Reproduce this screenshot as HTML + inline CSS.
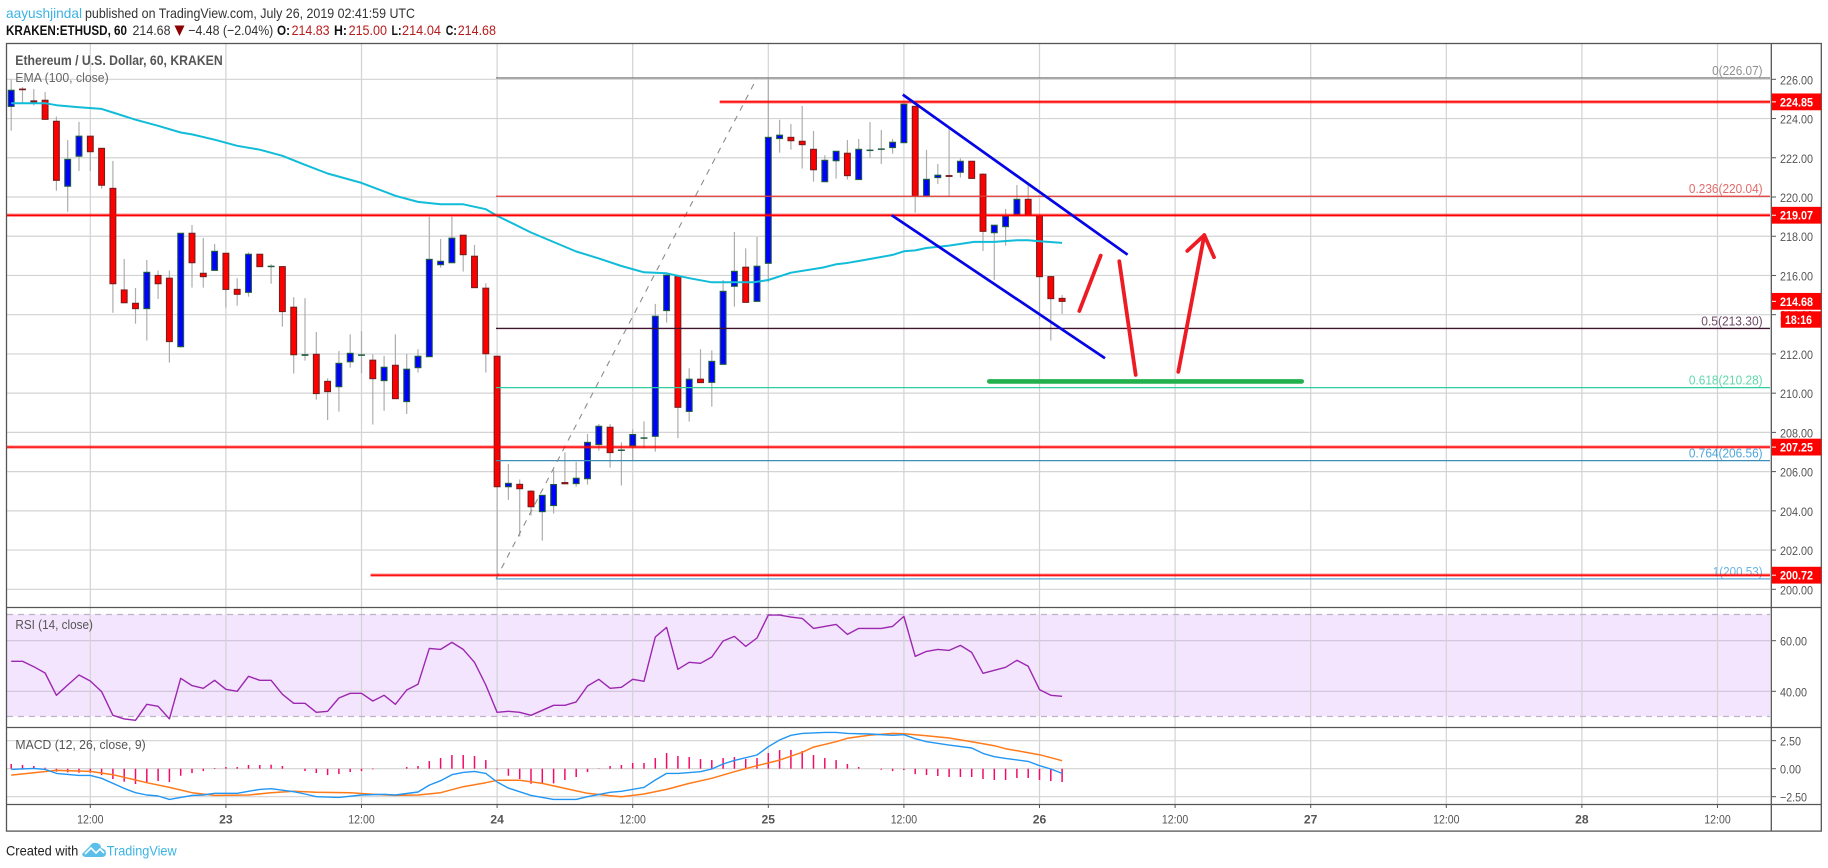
<!DOCTYPE html>
<html lang="en">
<head>
<meta charset="utf-8">
<title>ETHUSD 60 chart</title>
<style>
html,body{margin:0;padding:0;background:#fff;width:1828px;height:868px;overflow:hidden}
svg{display:block}
text{font-family:"Liberation Sans",sans-serif}
</style>
</head>
<body>
<svg id="chart" xmlns="http://www.w3.org/2000/svg" width="1828" height="868" viewBox="0 0 1828 868">
  <g font-size="14">
    <text x="6" y="18" fill="#3bb3e4" textLength="76" lengthAdjust="spacingAndGlyphs">aayushjindal</text>
    <text x="85" y="18" fill="#333" textLength="330" lengthAdjust="spacingAndGlyphs">published on TradingView.com, July 26, 2019 02:41:59 UTC</text>
    <text x="6" y="35" fill="#111" font-weight="bold" textLength="121" lengthAdjust="spacingAndGlyphs">KRAKEN:ETHUSD, 60</text>
    <text x="132.5" y="35" fill="#333" textLength="38" lengthAdjust="spacingAndGlyphs">214.68</text>
    <polygon points="174.5,25.5 184.5,25.5 179.5,36" fill="#8b0000"/>
    <text x="188.3" y="35" fill="#333" textLength="85" lengthAdjust="spacingAndGlyphs">−4.48 (−2.04%)</text>
    <text x="277" y="35" fill="#111" font-weight="bold" textLength="13" lengthAdjust="spacingAndGlyphs">O:</text>
    <text x="291.6" y="35" fill="#b71c1c" textLength="38" lengthAdjust="spacingAndGlyphs">214.83</text>
    <text x="334" y="35" fill="#111" font-weight="bold" textLength="13" lengthAdjust="spacingAndGlyphs">H:</text>
    <text x="348.6" y="35" fill="#b71c1c" textLength="38.4" lengthAdjust="spacingAndGlyphs">215.00</text>
    <text x="391.5" y="35" fill="#111" font-weight="bold" textLength="10" lengthAdjust="spacingAndGlyphs">L:</text>
    <text x="402" y="35" fill="#b71c1c" textLength="39" lengthAdjust="spacingAndGlyphs">214.04</text>
    <text x="445.8" y="35" fill="#111" font-weight="bold" textLength="11" lengthAdjust="spacingAndGlyphs">C:</text>
    <text x="457.7" y="35" fill="#b71c1c" textLength="38.3" lengthAdjust="spacingAndGlyphs">214.68</text>
  </g>

  <rect x="7" y="614.3" width="1763" height="102" fill="#f3e5fd"/>
  <g id="grid" stroke="#d3d3d3" stroke-width="1.2"></g>
  <line x1="7" x2="1770" y1="614.5" y2="614.5" stroke="#bdb3c4" stroke-width="1.2" stroke-dasharray="6 5"/>
  <line x1="7" x2="1770" y1="716.5" y2="716.5" stroke="#bdb3c4" stroke-width="1.2" stroke-dasharray="6 5"/>

  <g id="candles"></g>
  <polyline id="ema" fill="none" stroke="#10bcd8" stroke-width="2" stroke-linejoin="round"/>
  <g id="fib"></g>
  <g id="levels"></g>
  <g id="drawings"></g>

  <polyline id="rsi" fill="none" stroke="#9c27b0" stroke-width="1.4" stroke-linejoin="round"/>
  <g id="hist"></g>
  <polyline id="signal" fill="none" stroke="#ff7a1a" stroke-width="1.5" stroke-linejoin="round"/>
  <polyline id="macd" fill="none" stroke="#2196f3" stroke-width="1.4" stroke-linejoin="round"/>

  <g stroke="#555" stroke-width="1.3" fill="none">
    <rect x="6.5" y="43.5" width="1814.8" height="787.6"/>
    <line x1="1771.3" x2="1771.3" y1="43.5" y2="831"/>
    <line x1="6.5" x2="1821" y1="607.5" y2="607.5"/>
    <line x1="6.5" x2="1821" y1="727.5" y2="727.5"/>
    <line x1="6.5" x2="1821" y1="804.5" y2="804.5"/>
  </g>
  <g id="axes" font-size="12" fill="#555"></g>

  <g id="badges"></g>
  <rect x="1780.8" y="311.3" width="40.5" height="16.4" fill="#f00"/>
  <text x="1785" y="324" font-size="12" font-weight="bold" fill="#fff" textLength="27" lengthAdjust="spacingAndGlyphs">18:16</text>

  <g>
    <text x="15.3" y="65" font-size="14" font-weight="bold" fill="#555" textLength="207.4" lengthAdjust="spacingAndGlyphs">Ethereum / U.S. Dollar, 60, KRAKEN</text>
    <text x="15.3" y="82" font-size="13" fill="#666" textLength="93.4" lengthAdjust="spacingAndGlyphs">EMA (100, close)</text>
    <text x="15.4" y="629" font-size="13" fill="#555" textLength="77.5" lengthAdjust="spacingAndGlyphs">RSI (14, close)</text>
    <text x="15.4" y="749" font-size="13" fill="#555" textLength="130.3" lengthAdjust="spacingAndGlyphs">MACD (12, 26, close, 9)</text>
  </g>

  <g>
    <text x="6" y="855.5" font-size="14" fill="#222" textLength="72.3" lengthAdjust="spacingAndGlyphs">Created with</text>
    <path d="M82 854 L90 846 Q92 842 97 843 Q101 844 101 848 Q106 849 106 853 Q106 857 102 857 L86 857 Q83 857 82 854 Z" fill="#5bbfea"/>
    <polyline points="85,854 91,848 96,853 100,849 104,853" fill="none" stroke="#fff" stroke-width="1.6"/>
    <text x="106.7" y="855.5" font-size="14" fill="#3bb3e4" textLength="70" lengthAdjust="spacingAndGlyphs">TradingView</text>
  </g>
</svg>

<script>
// ---- candle data: one entry per hour, first candle is hour -7 relative to Jul 22 12:00 ----
var firstHour = -7;
var opens  = [224.62,225.5,224.9,224.93,223.86,220.55,222.08,223.1,222.48,220.44,215.26,214.58,214.31,216.0,215.86,212.37,218.15,216.11,216.26,217.13,215.29,215.14,217.08,216.45,216.45,214.38,211.93,211.98,210.6,210.33,211.6,211.95,211.68,210.64,211.42,209.57,211.3,211.86,216.55,216.65,218.05,216.98,215.35,211.88,205.23,205.35,205.0,203.96,204.27,205.44,205.39,205.64,207.38,208.26,207.1,207.32,207.72,207.8,214.21,215.96,209.07,210.71,210.55,211.47,215.45,216.42,214.68,216.62,222.98,223.04,222.84,222.43,220.78,221.85,222.23,220.89,222.37,222.43,222.52,222.77,224.62,220.05,220.99,221.09,221.26,221.82,221.16,218.18,218.49,219.1,219.88,219.05,215.94,214.83];
var highs  = [226.0,225.6,225.5,225.35,224.1,222.9,223.83,223.1,222.48,221.84,216.84,215.36,216.79,216.25,216.25,218.15,218.57,217.91,217.6,217.13,215.86,217.18,217.08,216.57,216.45,214.89,214.84,213.12,210.76,212.15,213.0,213.17,211.98,211.9,213.0,212.0,212.24,219.0,217.86,219.0,218.05,217.56,215.6,211.88,206.39,205.6,205.06,204.79,206.08,206.98,206.5,207.92,208.43,208.43,207.49,208.16,208.56,214.55,216.11,215.96,211.27,212.24,212.18,215.77,218.22,217.38,217.96,226.07,223.94,223.72,224.64,223.37,222.13,222.33,222.91,222.96,223.82,223.42,222.96,224.73,224.62,222.4,221.68,223.55,221.97,221.82,221.21,218.56,219.39,220.61,220.7,219.05,215.94,215.0];
var lows   = [223.38,224.8,224.66,223.96,220.32,219.25,221.33,221.33,220.43,214.1,214.61,213.54,212.68,214.8,211.56,212.32,215.38,215.38,216.26,214.36,214.46,214.92,216.45,215.58,213.39,211.0,211.66,209.67,208.63,209.06,211.3,211.0,208.4,209.1,209.72,208.94,211.05,211.86,216.4,216.65,216.2,215.38,211.05,200.53,204.56,202.69,203.76,202.48,203.86,205.38,205.23,205.34,207.07,206.2,205.29,206.53,207.19,207.02,213.6,207.7,208.55,210.54,209.31,211.47,214.41,214.63,214.68,215.65,222.26,222.41,221.45,220.78,220.78,220.94,220.89,220.89,221.99,221.68,222.21,222.77,219.2,220.05,220.66,220.05,220.99,220.95,217.25,215.77,217.52,219.1,219.07,213.77,212.68,214.04];
var closes = [225.44,225.47,224.85,223.96,220.85,221.92,223.1,222.31,220.6,215.58,214.61,214.31,216.16,215.58,212.63,218.15,216.65,215.94,217.23,215.29,215.04,217.08,216.45,216.47,214.16,211.96,211.96,209.98,210.08,211.52,212.03,211.95,210.74,211.32,209.72,211.22,211.88,216.82,216.72,217.9,217.06,215.38,212.01,205.23,205.4,205.13,204.21,204.79,205.34,205.38,205.66,207.49,208.31,206.97,207.1,207.89,207.72,213.92,216.01,209.28,210.71,210.54,211.62,215.19,216.21,214.63,216.47,223.04,223.15,222.87,222.67,221.39,221.87,222.33,221.09,222.43,222.39,222.45,222.79,224.73,220.05,220.9,221.11,221.05,221.82,220.95,218.25,218.56,219.03,219.88,219.07,215.94,214.82,214.68];

// ---- EMA (100) readings ----
var emaHours  = [-7,-4,-3,-1,1,2,4,6,8,9,11,13,15,17,19,21,24,27,29,31,33,35,36,39,43,45,47,49,51,53,55,58.7,60,62,64.8,66,66.8,68.5,71,72,73,74,76,78.2,80,82,83,84,86];
var emaValues = [224.78,224.78,224.68,224.58,224.49,224.31,223.94,223.63,223.29,223.19,222.92,222.61,222.41,222.1,221.64,221.2,220.72,220.06,219.75,219.63,219.63,219.38,219.04,218.19,217.22,216.87,216.48,216.16,216.11,215.86,215.65,215.65,215.77,216.14,216.4,216.57,216.62,216.79,217.05,217.23,217.28,217.4,217.52,217.71,217.71,217.79,217.79,217.74,217.66];

// ---- RSI (14): one value per candle ----
var rsiValues = [51.84,51.84,49.74,47.24,38.42,42.5,46.45,44.08,39.87,30.5,29.08,28.55,34.87,34.08,29.08,45.13,42.24,41.18,44.34,40.79,40,45.92,44.34,44.34,38.82,35.26,35.26,31.71,32.11,37.37,39.21,39.21,36.18,38.42,34.87,40.53,42.76,56.97,56.58,59.34,56.58,51.45,42.5,31.71,32.11,31.71,30.53,32.5,34.47,34.47,35.8,42.1,44.74,41.18,41.58,44.74,43.95,61.45,65.26,48.68,51.45,51.05,53.55,59.87,61.71,57.76,61.05,70.13,70.13,69.34,68.82,64.87,65.66,66.45,62.5,64.87,64.87,64.87,65.66,69.61,53.82,55.79,56.58,56.18,58.16,55.39,47.11,48.29,49.47,52.24,49.87,40.66,38.42,38.03];

// ---- MACD readings ----
var macdHours    = [-7,-5,-4,-3,-1,0,1,3,4,5,6,7,9,10,11,13,14,15,16,18,19,20,22,24,26,27,29,30,31,32,33,34,35,36,37,39,41,43,44,46,47,49,50,51,52,54,55,56,57,59,60,61,62,63,65,66,67,69,71,72,73,74,76,78,79,80,81,83,84,85,86];
var macdValues   = [-0.06,0.03,-0.06,-0.42,-0.6,-0.6,-0.86,-1.76,-2.14,-2.35,-2.44,-2.74,-2.38,-2.35,-2.2,-2.2,-2.02,-1.85,-1.79,-2.05,-2.26,-2.5,-2.56,-2.35,-2.29,-2.35,-2.08,-1.46,-1.07,-0.54,-0.33,-0.24,-0.42,-1.19,-1.73,-2.38,-2.74,-2.74,-2.5,-2.11,-2.02,-1.67,-1.01,-0.42,-0.42,-0.27,-0.03,0.42,0.74,1.22,1.96,2.56,2.98,3.15,3.24,3.24,3.15,3.1,2.98,3.04,2.68,2.41,2.11,1.85,1.37,1.07,0.92,0.65,0.27,-0.03,-0.42];
var signalHours  = [-7,-5,-3,0,2,4,5,7,9,11,14,16,18,20,23,25,27,29,31,33,35,36,38,40,42,44,46,47,49,51,53,55,57,59,61,63,64,66,67,69,71,72,74,76,78,80,81,83,84,86];
var signalValues = [-0.57,-0.36,-0.15,-0.24,-0.54,-1.01,-1.25,-1.67,-2.14,-2.38,-2.35,-2.14,-2.02,-2.11,-2.14,-2.29,-2.38,-2.35,-2.14,-1.61,-1.25,-1.04,-1.04,-1.31,-1.76,-2.2,-2.41,-2.5,-2.26,-1.85,-1.31,-0.86,-0.27,0.27,0.77,1.46,1.93,2.41,2.71,3.0,3.15,3.12,2.95,2.74,2.41,2.05,1.79,1.43,1.25,0.71];
var histValues   = [0.42,0.33,0.24,0.09,-0.27,-0.33,-0.36,-0.36,-0.57,-0.92,-1.16,-1.37,-1.22,-1.1,-1.19,-0.63,-0.39,-0.21,0.06,0.15,0.15,0.33,0.33,0.36,0.24,0,-0.21,-0.39,-0.57,-0.48,-0.3,-0.21,-0.06,0,0,0.15,0.24,0.68,0.95,1.22,1.22,1.13,0.77,-0.06,-0.63,-0.92,-1.34,-1.31,-1.31,-1.01,-0.74,-0.3,0.03,0.24,0.33,0.51,0.51,0.95,1.4,1.13,1.04,0.86,0.77,0.95,1.04,0.86,0.95,1.4,1.67,1.67,1.58,1.22,0.95,0.77,0.42,0.15,0,-0.09,-0.21,-0.12,-0.48,-0.57,-0.65,-0.74,-0.74,-0.74,-0.92,-1.01,-1.01,-0.83,-0.83,-1.01,-1.1,-1.19];

// ---- tick labels ----
var priceTicks = [226,224,222,220,218,216,214,212,210,208,206,204,202,200];
var rsiTicks   = [60,40];
var macdTicks  = [2.5,0,-2.5];
var timeTickHours  = [0,12,24,36,48,60,72,84,96,108,120,132,144];
var timeTickLabels = ['12:00','23','12:00','24','12:00','25','12:00','26','12:00','27','12:00','28','12:00'];

// ---- chart levels and drawings, in price / hour terms ----
var levelPrices = [224.85,219.07,207.25,200.72];
var levelStarts = [55.7,-7.4,-7.4,24.8];
var fibRatios = ['0','0.236','0.5','0.618','0.764','1'];
var fibPrices = [226.07,220.04,213.30,210.28,206.56,200.53];
var fibColors = ['#858585','#e53935','#40132f','#2ecc9f','#3d8fb8','#5ba7d8'];
var fibTextColors = ['#8f8f8f','#e26a6a','#6d4a66','#62d8ae','#4da6dc','#68b4e4'];
var fibLabelWidths = [50.5,73.7,61.3,73.7,73.7,49.8];
var fibStartHour = 35.9;
var fibTrendEndHour = 59;
var channelUpperHours = [71.9,91.8];
var channelUpperPrices = [225.22,217.06];
var channelLowerHours = [70.92,89.8];
var channelLowerPrices = [219.07,211.78];
var supportHours = [79.56,107.2];
var supportPrice = 210.6;
var arrowUpHours = [87.52,89.42];
var arrowUpPrices = [214.19,217.01];
var arrowDownHours = [91.06,92.51];
var arrowDownPrices = [216.72,210.93];
var arrowMainHours = [96.28,98.58];
var arrowMainPrices = [211.09,218.06];
var arrowHeadHours = [97.08,98.58,99.44];
var arrowHeadPrices = [217.25,218.06,216.93];
var lastPrice = 214.68;

// ---- axis functions ----
var PANE_LEFT = 7, PANE_RIGHT = 1770;
function xH(h){ return 90.3 + 11.3 * h; }
function xI(i){ return xH(firstHour + i); }
function yP(p){ return 589.3 - (p - 200) * 19.615; }
function yR(r){ return 691.3 - (r - 40) * 2.53; }
function yM(m){ return 768.7 - m * 11.2; }

var NS = 'http://www.w3.org/2000/svg';
function mk(tag, attrs, parent){
  var el = document.createElementNS(NS, tag);
  for (var k in attrs) el.setAttribute(k, attrs[k]);
  parent.appendChild(el);
  return el;
}
function pts(hours, values, yf){
  return hours.map(function(h, i){ return xH(h).toFixed(1) + ',' + yf(values[i]).toFixed(1); }).join(' ');
}
function el(id){ return document.getElementById(id); }

// grid
var gridG = el('grid');
priceTicks.forEach(function(p){
  var l = mk('line', {x1:PANE_LEFT, x2:PANE_RIGHT, y1:yP(p), y2:yP(p)}, gridG);
  
  
});
rsiTicks.forEach(function(r){
  var l = mk('line', {x1:PANE_LEFT, x2:PANE_RIGHT, y1:yR(r), y2:yR(r), stroke:'#cfc2d8'}, gridG);
  
  
});
macdTicks.forEach(function(m){
  var l = mk('line', {x1:PANE_LEFT, x2:PANE_RIGHT, y1:yM(m), y2:yM(m)}, gridG);
  
  
});
timeTickHours.forEach(function(h){
  var l = mk('line', {x1:xH(h), x2:xH(h), y1:44, y2:804}, gridG);
  
  
});

// candles
var candleG = el('candles');
opens.forEach(function(o, i){
  var c = closes[i], x = xI(i), up = c >= o;
  var wick = mk('line', {x1:x, x2:x, y1:yP(highs[i]), y2:yP(lows[i]), stroke:'#adadad', 'stroke-width':1.2}, candleG);
  
  
  var top = yP(Math.max(o, c)), bot = yP(Math.min(o, c));
  var body = mk('rect', {x:x - 2.9, y:top, width:5.8, height:Math.max(bot - top, 0.4),
    fill: up ? '#0000ff' : '#ff0000', stroke: up ? '#1d5c40' : '#7a1c1c', 'stroke-width':1.1}, candleG);
  
  
});

// EMA, RSI, MACD lines
el('ema').setAttribute('points', pts(emaHours, emaValues, yP));
el('rsi').setAttribute('points', pts(rsiValues.map(function(v, i){ return firstHour + i; }), rsiValues, yR));
el('macd').setAttribute('points', pts(macdHours, macdValues, yM));
el('signal').setAttribute('points', pts(signalHours, signalValues, yM));

// MACD histogram
var histG = el('hist');
histValues.forEach(function(v, i){
  var b = mk('line', {x1:xI(i), x2:xI(i), y1:yM(0), y2:yM(v), stroke:'#f50a68', 'stroke-width':1.5}, histG);
  
  
});

// Fibonacci retracement
var fibG = el('fib');
fibPrices.forEach(function(p, i){
  var l = mk('line', {x1:xH(fibStartHour), x2:PANE_RIGHT, y1:yP(p), y2:yP(p), stroke:fibColors[i], 'stroke-width':1.3}, fibG);
  
  
  var t = mk('text', {x:1762.6 - fibLabelWidths[i], y:yP(p) - 3, 'font-size':12.5, fill:fibTextColors[i],
    textLength:fibLabelWidths[i], lengthAdjust:'spacingAndGlyphs'}, fibG);
  t.textContent = fibRatios[i] + '(' + p.toFixed(2) + ')';
  
  
});
var fibTrend = mk('line', {x1:xH(fibStartHour), y1:yP(fibPrices[5]), x2:xH(fibTrendEndHour), y2:yP(fibPrices[0]),
  stroke:'#8c8c8c', 'stroke-width':1.1, 'stroke-dasharray':'6 6'}, fibG);



// Horizontal levels
var levelG = el('levels');
levelPrices.forEach(function(p, i){
  var h = mk('line', {x1:xH(levelStarts[i]), x2:PANE_RIGHT, y1:yP(p), y2:yP(p), stroke:'#ff0000', 'stroke-opacity':0.4, 'stroke-width':3.4}, levelG);
  
  
  var l = mk('line', {x1:xH(levelStarts[i]), x2:PANE_RIGHT, y1:yP(p), y2:yP(p), stroke:'#ff0000', 'stroke-width':1.4}, levelG);
  
  
});

// Annotations
var drawG = el('drawings');
var chU = mk('polyline', {points:pts(channelUpperHours, channelUpperPrices, yP), fill:'none', stroke:'#0505e6', 'stroke-width':2.7}, drawG);


var chL = mk('polyline', {points:pts(channelLowerHours, channelLowerPrices, yP), fill:'none', stroke:'#0505e6', 'stroke-width':2.7}, drawG);


var sup = mk('polyline', {points:pts(supportHours, [supportPrice, supportPrice], yP), fill:'none', stroke:'#22b14c', 'stroke-width':4.6, 'stroke-linecap':'round'}, drawG);


var a1 = mk('polyline', {points:pts(arrowUpHours, arrowUpPrices, yP), fill:'none', stroke:'#ed1c24', 'stroke-width':3.8, 'stroke-linecap':'round'}, drawG);


var a2 = mk('polyline', {points:pts(arrowDownHours, arrowDownPrices, yP), fill:'none', stroke:'#ed1c24', 'stroke-width':3.8, 'stroke-linecap':'round'}, drawG);


var a3 = mk('polyline', {points:pts(arrowMainHours, arrowMainPrices, yP), fill:'none', stroke:'#ed1c24', 'stroke-width':3.8, 'stroke-linecap':'round'}, drawG);


var a4 = mk('polyline', {points:pts(arrowHeadHours, arrowHeadPrices, yP), fill:'none', stroke:'#ed1c24', 'stroke-width':3.8, 'stroke-linecap':'round', 'stroke-linejoin':'round'}, drawG);



// Axes
var axes = el('axes');
function tick(x1, x2, y1, y2){
  return mk('line', {x1:x1, x2:x2, y1:y1, y2:y2, stroke:'#555', 'stroke-width':1}, axes);
}
function axisText(s, x, y, w){
  var t = mk('text', {x:x, y:y, textLength:w, lengthAdjust:'spacingAndGlyphs'}, axes);
  t.textContent = s;
  return t;
}
priceTicks.forEach(function(p){
  var m = tick(1771.3, 1776, yP(p), yP(p));
  
  
  var t = axisText(p.toFixed(2), 1780, yP(p) + 5, 33);
  
  
});
rsiTicks.forEach(function(r){
  var m = tick(1771.3, 1776, yR(r), yR(r));
  
  
  var t = axisText(r.toFixed(2), 1780, yR(r) + 5, 27);
  
  
});
macdTicks.forEach(function(v){
  var m = tick(1771.3, 1776, yM(v), yM(v));
  
  
  var s = (v < 0 ? '−' : '') + Math.abs(v).toFixed(2);
  var t = axisText(s, 1780, yM(v) + 5, v < 0 ? 27 : 21);
  
  
});
timeTickHours.forEach(function(h, i){
  var m = tick(xH(h), xH(h), 804.5, 808);
  
  
  var s = timeTickLabels[i], w = s.length > 2 ? 26.4 : 13.5;
  var t = axisText(s, xH(h) - w / 2, 823.5, w);
  if (s.length <= 2) t.setAttribute('font-weight', 'bold');
  
  
});

// Red price badges
var badgeG = el('badges');
levelPrices.concat([lastPrice]).forEach(function(p){
  var y = yP(p);
  var r = mk('rect', {x:1771.8, y:y - 8.4, width:49.5, height:16.8, fill:'#ff0000'}, badgeG);
  
  
  var m = mk('line', {x1:1772, x2:1776, y1:y, y2:y, stroke:'#fff', 'stroke-width':1}, badgeG);
  
  
  var t = mk('text', {x:1780, y:y + 4.5, 'font-size':12, 'font-weight':'bold', fill:'#fff', textLength:33, lengthAdjust:'spacingAndGlyphs'}, badgeG);
  t.textContent = p.toFixed(2);
  
  
});
</script>
</body>
</html>
